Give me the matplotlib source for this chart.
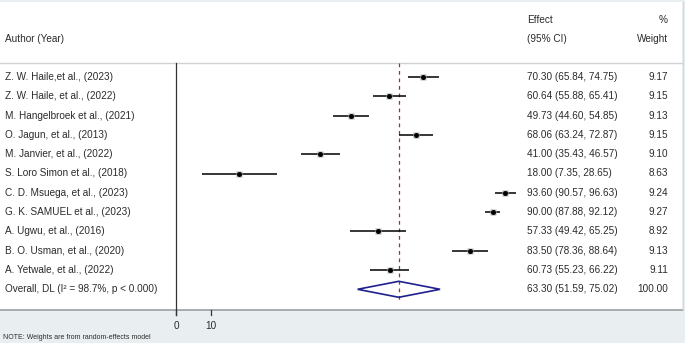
import matplotlib
matplotlib.use("Agg")
import matplotlib.pyplot as plt
from matplotlib.patches import Rectangle, Polygon
from matplotlib.lines import Line2D
import matplotlib.transforms as mtrans

plt.rcParams['font.family'] = ['Liberation Sans', 'DejaVu Sans']

# ---------------- data ----------------
authors = [
    "Z. W. Haile,et al., (2023)",
    "Z. W. Haile, et al., (2022)",
    "M. Hangelbroek et al., (2021)",
    "O. Jagun, et al., (2013)",
    "M. Janvier, et al., (2022)",
    "S. Loro Simon et al., (2018)",
    "C. D. Msuega, et al., (2023)",
    "G. K. SAMUEL et al., (2023)",
    "A. Ugwu, et al., (2016)",
    "B. O. Usman, et al., (2020)",
    "A. Yetwale, et al., (2022)",
]
effects = [70.30, 60.64, 49.73, 68.06, 41.00, 18.00, 93.60, 90.00, 57.33, 83.50, 60.73]
ci_low = [65.84, 55.88, 44.60, 63.24, 35.43, 7.35, 90.57, 87.88, 49.42, 78.36, 55.23]
ci_high = [74.75, 65.41, 54.85, 72.87, 46.57, 28.65, 96.63, 92.12, 65.25, 88.64, 66.22]
weights = [9.17, 9.15, 9.13, 9.15, 9.10, 8.63, 9.24, 9.27, 8.92, 9.13, 9.11]

overall_label = "Overall, DL (I\u00b2 = 98.7%, p < 0.000)"
overall_effect = 63.30
overall_low = 51.59
overall_high = 75.02
overall_weight = 100.00

xticks = [0, 10]
note = "NOTE: Weights are from random-effects model"

# ---------------- layout ----------------
W, H = 685, 343
fig = plt.figure(figsize=(W / 100, H / 100), dpi=100)
bg = '#e9eff1'
fig.patch.set_facecolor(bg)

def fx(px):
    return px / W

def fy(py):
    return 1 - py / H

# white panel
fig.patches.append(Rectangle((fx(0), fy(310)), fx(682), (310 - 2) / H,
                             transform=fig.transFigure, facecolor='white',
                             edgecolor='none', zorder=-3))
fig.lines.append(Line2D([fx(0), fx(682)], [fy(310), fy(310)], transform=fig.transFigure,
                        color='#a8acae', lw=1.4, zorder=-2))
fig.lines.append(Line2D([fx(682.5), fx(682.5)], [fy(310), fy(2)], transform=fig.transFigure,
                        color='#d4d8da', lw=0.8, zorder=-2))

row0, rowh = 77.0, 19.3

def py2row(py):
    return (py - row0) / rowh

px_per_unit = 3.52
x0px = 176
ax = fig.add_axes([0, 0, 1, 1])
ax.set_zorder(1)
ax.set_xlim(-x0px / px_per_unit, (W - x0px) / px_per_unit)
ax.set_ylim(py2row(H), py2row(0))
ax.axis('off')
ax.patch.set_alpha(0)

txt = '#2b2b2b'
fs = 7.2
tr = mtrans.blended_transform_factory(ax.transAxes, ax.transData)

# header
ax.text(fx(5), py2row(39), "Author (Year)", transform=tr, fontsize=fs, color=txt, va='center', ha='left')
ax.text(fx(527), py2row(20), "Effect", transform=tr, fontsize=fs, color=txt, va='center', ha='left')
ax.text(fx(527), py2row(39), "(95% CI)", transform=tr, fontsize=fs, color=txt, va='center', ha='left')
ax.text(fx(668), py2row(20), "%", transform=tr, fontsize=fs, color=txt, va='center', ha='right')
ax.text(fx(668), py2row(39), "Weight", transform=tr, fontsize=fs, color=txt, va='center', ha='right')
ax.plot([0, fx(682)], [py2row(63), py2row(63)], transform=tr, color='#cfd2d4', lw=1.0)

n = len(authors)
rows = list(range(n))

# axis line and ticks
ax.plot([0, 0], [py2row(63), py2row(315)], color='#333333', lw=0.9, zorder=3)
for t in xticks:
    ax.plot([t, t], [py2row(310), py2row(315)], color='#333333', lw=0.9)
    ax.text(t, py2row(326), str(t), fontsize=fs, color=txt, ha='center', va='center')

# reference dashed line
ax.plot([overall_effect, overall_effect], [py2row(63), py2row(300)], color='#b02a2a',
        lw=0.9, ls=(0, (3, 3)), zorder=2)

# studies
for i in rows:
    ax.plot([ci_low[i], ci_high[i]], [i, i], color='black', lw=1.1, solid_capstyle='butt', zorder=4)
    ax.plot(effects[i], i, marker='s', ms=4.0, color='#b0b0b0', mec='none', zorder=4)
    ax.plot(effects[i], i, marker='o', ms=3.6, color='black', mec='none', zorder=5)
    ax.text(fx(5), i, authors[i], transform=tr, fontsize=fs, color=txt, va='center', ha='left')
    ax.text(fx(527), i, f"{effects[i]:.2f} ({ci_low[i]:.2f}, {ci_high[i]:.2f})", transform=tr,
            fontsize=fs, color=txt, va='center', ha='left')
    ax.text(fx(668), i, f"{weights[i]:.2f}", transform=tr, fontsize=fs, color=txt, va='center', ha='right')

# overall
orow = n
dh = 8 / rowh
ax.add_patch(Polygon([[overall_low, orow], [overall_effect, orow - dh],
                      [overall_high, orow], [overall_effect, orow + dh]],
                     closed=True, facecolor='none', edgecolor='#1f1f8f', lw=1.2, zorder=4))
ax.text(fx(5), orow, overall_label, transform=tr, fontsize=fs, color=txt, va='center', ha='left')
ax.text(fx(527), orow, f"{overall_effect:.2f} ({overall_low:.2f}, {overall_high:.2f})", transform=tr,
        fontsize=fs, color=txt, va='center', ha='left')
ax.text(fx(668), orow, f"{overall_weight:.2f}", transform=tr, fontsize=fs, color=txt, va='center', ha='right')

# note
ax.text(fx(3), py2row(337.5), note, transform=tr, fontsize=5.0, color=txt, va='center', ha='left')

fig.savefig("out.png", dpi=100, facecolor=bg)
